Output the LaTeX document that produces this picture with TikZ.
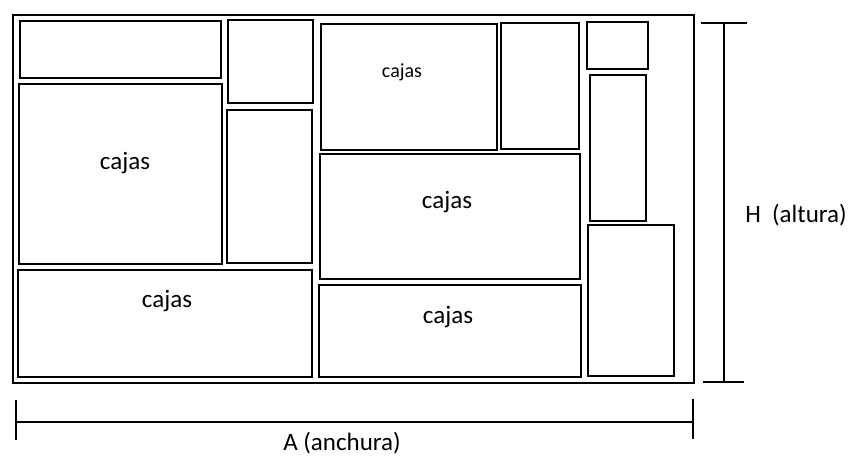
\documentclass[tikz,border=0pt]{standalone}
\usepackage{fontspec}
\setmainfont{Carlito}
\begin{document}
\begin{tikzpicture}[x=1pt,y=-1pt,
  boxline/.style={draw=black,line width=2.8pt},
  dimline/.style={draw=black,line width=2.2pt},
  lbl/.style={font=\fontsize{25}{30}\selectfont,inner sep=0pt,anchor=center}]
\useasboundingbox (0,0) rectangle (849,459);
% outer container
\draw[boxline] (13,15) rectangle (694,383);
% boxes
\draw[boxline] (20,21) rectangle (221,78);
\draw[boxline] (228,20) rectangle (313,103);
\draw[boxline] (19,84) rectangle (222,264);
\draw[boxline] (227,110) rectangle (312,263);
\draw[boxline] (18,270) rectangle (312,377);
\draw[boxline] (321,24) rectangle (497,150);
\draw[boxline] (501,23) rectangle (579,149);
\draw[boxline] (320,154) rectangle (580,279);
\draw[boxline] (319,285) rectangle (581,377);
\draw[boxline] (587,22) rectangle (648,69);
\draw[boxline] (590,75) rectangle (646,221);
\draw[boxline] (588,225) rectangle (674,376);
% labels
\node[lbl] (c1) at (125,163) {cajas};
\node[lbl] (c2) at (167,301) {cajas};
\node[lbl,font=\fontsize{20}{24}\selectfont] (c3) at (402,72) {cajas};
\node[lbl] (c4) at (447,202) {cajas};
\node[lbl] (c5) at (448,317) {cajas};
% height dimension
\coordinate (ht) at (724,23);
\coordinate (hb) at (724,382);
\draw[dimline] (ht) -- (hb);
\draw[dimline] (701,23) -- (747,23);
\draw[dimline] (703,382) -- (744,382);
\node[lbl] (hl) at (796,215) {H\ \ (altura)};
% width dimension
\coordinate (wl) at (16,422);
\coordinate (wr) at (693,422);
\draw[dimline] (wl) -- (wr);
\draw[dimline] (16,400) -- (16,440);
\draw[dimline] (693,399) -- (693,439);
\node[lbl] (al) at (342,443) {A (anchura)};
\end{tikzpicture}
\end{document}
